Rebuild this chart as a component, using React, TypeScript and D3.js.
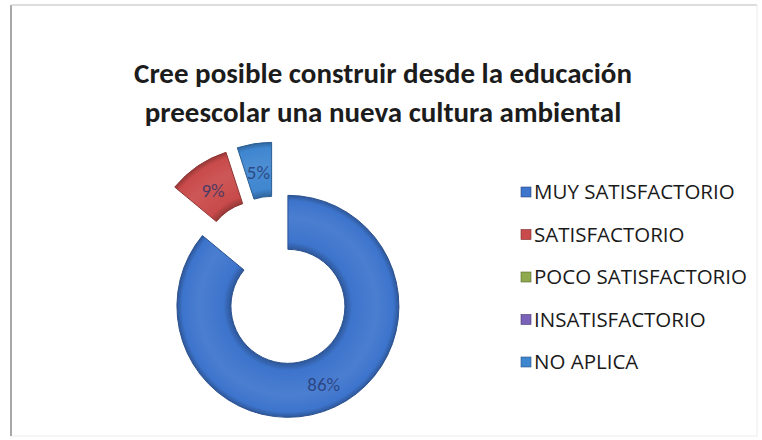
import React from 'react';
import { arc, pie, scaleOrdinal } from 'd3';

const categories = ['MUY SATISFACTORIO', 'SATISFACTORIO', 'POCO SATISFACTORIO', 'INSATISFACTORIO', 'NO APLICA'];
const values = [86, 9, 0, 0, 5];
const colors = ['#3d74cc', '#c94a4a', '#8faa4e', '#7a62b8', '#3f86d0'];
const titleLines = ['Cree posible construir desde la educación', 'preescolar una nueva cultura ambiental'];

const width = 762;
const height = 440;
const cx = 276, cy = 281;
const outer = 111, inner = 57;
const explode = 28;

const shade = (hex: string, k: number) => {
  const n = parseInt(hex.slice(1), 16);
  const f = (c: number) => Math.max(0, Math.min(255, Math.round(k >= 0 ? c + (255 - c) * k : c * (1 + k))));
  const r = f(n >> 16), g = f((n >> 8) & 255), b = f(n & 255);
  return `rgb(${r},${g},${b})`;
};

export default function App() {
  const color = scaleOrdinal<string, string>().domain(categories).range(colors);
  const slices = pie<number>().sort(null).value((d) => d)(values);
  const arcGen = arc<any>().innerRadius(inner).outerRadius(outer);
  const font = 'Carlito, Lato, "Open Sans", sans-serif';

  return (
    <svg width={width} height={height} style={{ position: 'absolute', left: 0, top: 0, background: '#fff' }}>
      <rect x={11} y={5} width={746} height={431} fill="#fff" stroke="#ececec" strokeWidth={1} />
      <line x1={11} y1={5} x2={11} y2={436} stroke="#a8a8a8" strokeWidth={2} />
      <line x1={11} y1={5} x2={757} y2={5} stroke="#d4d4d4" strokeWidth={1.5} />
      <defs>
        {slices.map((s, i) => {
          if (s.value === 0) return null;
          const base = color(categories[i]);
          return (
            <radialGradient key={i} id={`g${i}`} gradientUnits="userSpaceOnUse" cx={0} cy={0} r={outer}>
              <stop offset={inner / outer} stopColor={shade(base, -0.25)} />
              <stop offset={0.58} stopColor={base} />
              <stop offset={0.8} stopColor={shade(base, 0.07)} />
              <stop offset={0.95} stopColor={base} />
              <stop offset={1} stopColor={shade(base, -0.25)} />
            </radialGradient>
          );
        })}
      </defs>
      {slices.map((s, i) => {
        if (s.value === 0) return null;
        const mid = (s.startAngle + s.endAngle) / 2;
        const dx = Math.sin(mid) * explode;
        const dy = -Math.cos(mid) * explode;
        const [lx, ly] = arcGen.centroid(s);
        return (
          <g key={i} transform={`translate(${cx + dx},${cy + dy})`}>
            <path d={arcGen(s) as string} fill={`url(#g${i})`} stroke={shade(color(categories[i]), -0.3)} strokeWidth={1} />
            <text x={lx} y={ly + 2} dy="0.35em" textAnchor="middle" fontFamily={font} fontSize={19}
              fill="#22336a" fillOpacity={0.75}>
              {s.value}%
            </text>
          </g>
        );
      })}
      {titleLines.map((t, i) => (
        <text key={t} x={383} y={83 + i * 39} textAnchor="middle" fontFamily={font} fontWeight="bold"
          fontSize={29} fill="#1c1c1c">
          {t}
        </text>
      ))}
      {categories.map((c, i) => {
        const y = 192 + i * 42.5;
        return (
          <g key={c}>
            <rect x={521} y={y - 5} width={10} height={10} fill={color(c)} stroke={shade(color(c), -0.4)} strokeWidth={0.6} />
            <text x={534} y={y} dy="0.36em" fontFamily='"Open Sans", sans-serif' fontSize={20.5} fill="#1a1a1a">
              {c}
            </text>
          </g>
        );
      })}
    </svg>
  );
}
